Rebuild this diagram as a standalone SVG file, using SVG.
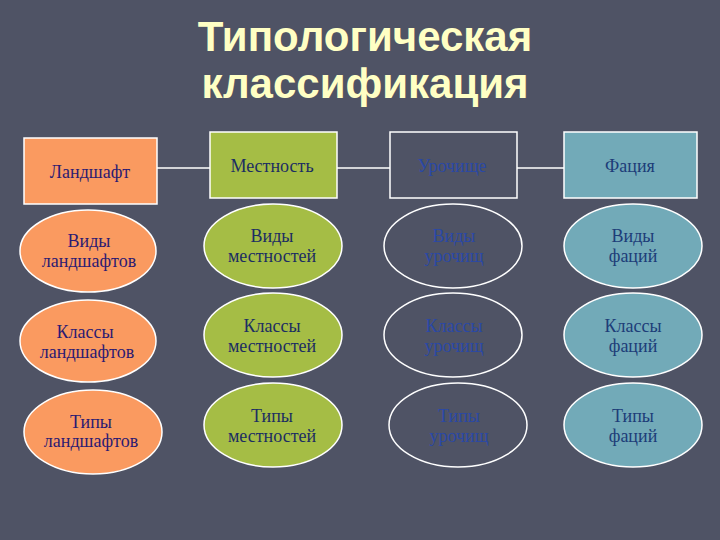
<svg xmlns="http://www.w3.org/2000/svg" width="720" height="540" viewBox="0 0 720 540">
<style>
.bg{fill:#4f5365}
.title{font-family:"Liberation Sans",Arial,sans-serif;font-weight:bold;font-size:42px;fill:#ffffc4;text-anchor:middle}
.box{stroke:#ffffff;stroke-width:1.5}
.t{font-family:"Liberation Serif","Times New Roman",serif;font-size:18px;text-anchor:middle}
.or{fill:#fa9a60}
.gr{fill:#a5bd45}
.gy{fill:#4f5365}
.te{fill:#72aab8}
.tor{fill:#2c1a72}
.tgr{fill:#1c2d62}
.tgy{fill:#2a48a6}
.tte{fill:#1d3d78}
.conn{stroke:#ffffff;stroke-width:1.5;fill:none}
</style>
<rect class="bg" x="0" y="0" width="720" height="540"/>
<g id="title">
<text class="title" x="365" y="51">Типологическая</text>
<text class="title" x="365" y="98">классификация</text>
</g>
<g id="connectors">
<line class="conn" x1="157" y1="168" x2="210" y2="168"/>
<line class="conn" x1="337" y1="168" x2="390" y2="168"/>
<line class="conn" x1="517" y1="168" x2="564" y2="168"/>
</g>
<g id="landshaft">
<rect class="box or" x="24" y="138" width="133" height="66"/>
<text class="t tor" x="90" y="178">Ландшафт</text>
</g>
<g id="mestnost">
<rect class="box gr" x="210" y="132" width="127" height="66"/>
<text class="t tgr" x="272" y="172">Местность</text>
</g>
<g id="urochishche">
<rect class="box gy" x="390" y="132" width="127" height="66"/>
<text class="t tgy" x="452" y="172">Урочище</text>
</g>
<g id="faciya">
<rect class="box te" x="564" y="132" width="133" height="66"/>
<text class="t tte" x="630" y="172">Фация</text>
</g>
<g id="vidy-landshaftov">
<ellipse class="box or" cx="88" cy="251" rx="68" ry="41"/>
<text class="t tor" x="89" y="247">Виды</text>
<text class="t tor" x="89" y="267">ландшафтов</text>
</g>
<g id="vidy-mestnostey">
<ellipse class="box gr" cx="273" cy="246" rx="69" ry="42"/>
<text class="t tgr" x="272" y="242">Виды</text>
<text class="t tgr" x="272" y="262">местностей</text>
</g>
<g id="vidy-urochishch">
<ellipse class="box gy" cx="453" cy="246" rx="69" ry="42"/>
<text class="t tgy" x="454" y="242">Виды</text>
<text class="t tgy" x="454" y="262">урочищ</text>
</g>
<g id="vidy-faciy">
<ellipse class="box te" cx="633" cy="246" rx="69" ry="42"/>
<text class="t tte" x="633" y="242">Виды</text>
<text class="t tte" x="633" y="262">фаций</text>
</g>
<g id="klassy-landshaftov">
<ellipse class="box or" cx="88" cy="341" rx="68" ry="41"/>
<text class="t tor" x="85" y="338">Классы</text>
<text class="t tor" x="87" y="358">ландшафтов</text>
</g>
<g id="klassy-mestnostey">
<ellipse class="box gr" cx="273" cy="335" rx="69" ry="42"/>
<text class="t tgr" x="272" y="332">Классы</text>
<text class="t tgr" x="272" y="352">местностей</text>
</g>
<g id="klassy-urochishch">
<ellipse class="box gy" cx="453" cy="335" rx="69" ry="42"/>
<text class="t tgy" x="454" y="332">Классы</text>
<text class="t tgy" x="454" y="352">урочищ</text>
</g>
<g id="klassy-faciy">
<ellipse class="box te" cx="633" cy="335" rx="69" ry="42"/>
<text class="t tte" x="633" y="332">Классы</text>
<text class="t tte" x="633" y="352">фаций</text>
</g>
<g id="tipy-landshaftov">
<ellipse class="box or" cx="93" cy="432" rx="69" ry="42"/>
<text class="t tor" x="91" y="428">Типы</text>
<text class="t tor" x="91" y="447">ландшафтов</text>
</g>
<g id="tipy-mestnostey">
<ellipse class="box gr" cx="273" cy="425" rx="69" ry="42"/>
<text class="t tgr" x="272" y="422">Типы</text>
<text class="t tgr" x="272" y="442">местностей</text>
</g>
<g id="tipy-urochishch">
<ellipse class="box gy" cx="458" cy="425" rx="69" ry="42"/>
<text class="t tgy" x="459" y="422">Типы</text>
<text class="t tgy" x="459" y="442">урочищ</text>
</g>
<g id="tipy-faciy">
<ellipse class="box te" cx="633" cy="425" rx="69" ry="42"/>
<text class="t tte" x="633" y="422">Типы</text>
<text class="t tte" x="633" y="442">фаций</text>
</g>
</svg>
